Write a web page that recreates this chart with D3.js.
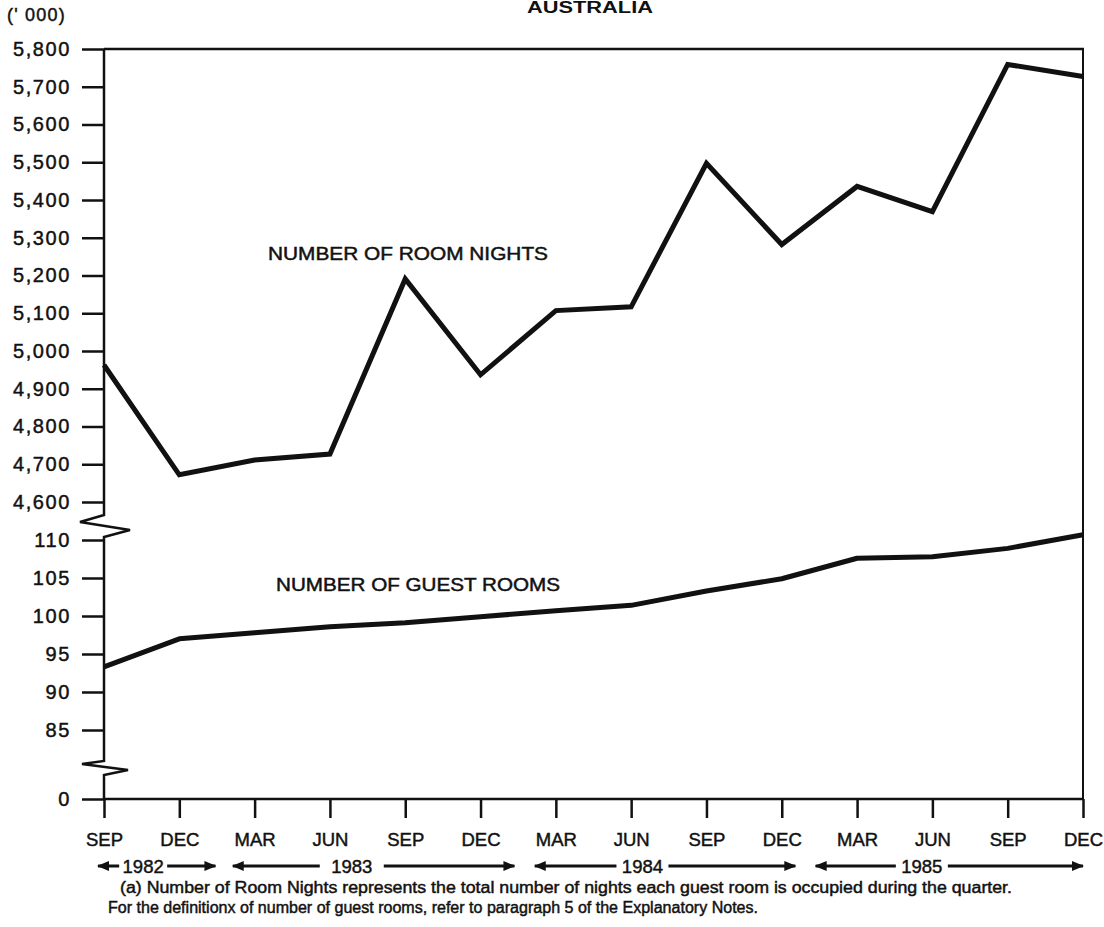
<!DOCTYPE html>
<html><head><meta charset="utf-8">
<script src="https://cdn.jsdelivr.net/npm/d3@7"></script>
<style>
html,body{margin:0;padding:0;background:#fff;}
svg{display:block;}
text{fill:#111;font-family:"Liberation Sans",Arial,Helvetica,sans-serif;}
</style></head>
<body>
<svg id="chart" width="1104" height="927"></svg>
<script>
const quarters = ["SEP","DEC","MAR","JUN","SEP","DEC","MAR","JUN","SEP","DEC","MAR","JUN","SEP","DEC"];
const roomNights = [4963, 4672, 4711, 4727, 5191, 4937, 5107, 5117, 5497, 5282, 5436, 5369, 5759, 5727];
const guestRooms = [93.3, 97.0, 97.8, 98.6, 99.1, 99.9, 100.7, 101.4, 103.3, 104.9, 107.6, 107.8, 108.9, 110.7];
const upperTicks = [4600,4700,4800,4900,5000,5100,5200,5300,5400,5500,5600,5700,5800];
const lowerTicks = [0,85,90,95,100,105,110];
const years = ["1982","1983","1984","1985"];
const seriesLabels = ["NUMBER OF ROOM NIGHTS","NUMBER OF GUEST ROOMS"];
const titleText = "AUSTRALIA";
const unitText = "(' 000)";
const footnotes = [
  "(a) Number of Room Nights represents the total number of nights each guest room is occupied during the quarter.",
  "For the definitionx of number of guest rooms, refer to paragraph 5 of the Explanatory Notes."
];

const svg = d3.select("#chart");
const X0 = 104, X1 = 1083, YTOP = 49, YZERO = 799;
const x = d3.scaleLinear().domain([0, quarters.length - 1]).range([X0, X1]);
const yUp = d3.scaleLinear().domain([4600, 5800]).range([502, YTOP]);
const yLow = d3.scaleLinear().domain([0, 85, 110]).range([YZERO, 730, 540]);

const ink = "#111";
const thicken = sel => sel.attr("stroke", ink).attr("stroke-width", 0.45).attr("paint-order", "stroke");

// title (partly cut off at top in the original)
svg.append("text").attr("x", 590).attr("y", 13).attr("text-anchor", "middle")
  .attr("font-size", 16).attr("font-weight", "bold")
  .attr("textLength", 126).attr("lengthAdjust", "spacingAndGlyphs").text(titleText);
svg.append("text").attr("x", 7).attr("y", 21).attr("font-size", 18).attr("letter-spacing", "1.2px")
  .call(thicken).text(unitText);

function styleAxis(g) {
  g.select(".domain").remove();
  g.selectAll(".tick line").attr("stroke", ink).attr("stroke-width", 2.5);
  g.selectAll(".tick text").attr("font-size", 20).attr("letter-spacing", "1.6px")
    .attr("fill", ink).attr("font-family", '"Liberation Sans",Arial,sans-serif').call(thicken);
}

// upper y axis
svg.append("g").attr("transform", `translate(${X0},0)`)
  .call(d3.axisLeft(yUp).tickValues(upperTicks).tickSize(22).tickPadding(11).tickFormat(d3.format(",")))
  .call(styleAxis);
// lower y axis
svg.append("g").attr("transform", `translate(${X0},0)`)
  .call(d3.axisLeft(yLow).tickValues(lowerTicks).tickSize(22).tickPadding(11).tickFormat(d3.format(",")))
  .call(styleAxis);

// y axis line with break zigzags
const axisPath = d3.path();
axisPath.moveTo(X0, YTOP);
axisPath.lineTo(X0, 515); axisPath.lineTo(80, 522); axisPath.lineTo(130, 530); axisPath.lineTo(X0, 537);
axisPath.lineTo(X0, 761); axisPath.lineTo(82, 764); axisPath.lineTo(128, 770); axisPath.lineTo(X0, 775);
axisPath.lineTo(X0, YZERO);
svg.append("path").attr("d", axisPath.toString()).attr("fill", "none")
  .attr("stroke", ink).attr("stroke-width", 2.5).attr("stroke-linejoin", "miter");

// frame: top and right
svg.append("line").attr("x1", X0).attr("x2", X1 + 1).attr("y1", YTOP).attr("y2", YTOP)
  .attr("stroke", ink).attr("stroke-width", 2.5);
svg.append("line").attr("x1", X1).attr("x2", X1).attr("y1", YTOP).attr("y2", YZERO)
  .attr("stroke", ink).attr("stroke-width", 2);

// x axis
const xg = svg.append("g").attr("transform", `translate(0,${YZERO})`)
  .call(d3.axisBottom(x).tickValues(d3.range(quarters.length)).tickSize(19).tickPadding(15)
    .tickFormat(i => quarters[i]));
xg.select(".domain").remove();
xg.selectAll(".tick line").attr("stroke", ink).attr("stroke-width", 2.5);
xg.selectAll(".tick text").attr("font-size", 18.5).attr("fill", ink)
  .attr("font-family", '"Liberation Sans",Arial,sans-serif').call(thicken);
svg.append("line").attr("x1", X0).attr("x2", X1 + 1).attr("y1", YZERO).attr("y2", YZERO)
  .attr("stroke", ink).attr("stroke-width", 2.5);

// data lines
const lineUp = d3.line().x((d, i) => x(i)).y(d => yUp(d));
const lineLow = d3.line().x((d, i) => x(i)).y(d => yLow(d));
svg.append("path").datum(roomNights).attr("d", lineUp).attr("fill", "none")
  .attr("stroke", ink).attr("stroke-width", 5).attr("stroke-linejoin", "miter");
svg.append("path").datum(guestRooms).attr("d", lineLow).attr("fill", "none")
  .attr("stroke", ink).attr("stroke-width", 5).attr("stroke-linejoin", "round");

// series labels
svg.append("text").attr("x", 268).attr("y", 260).attr("font-size", 17.5)
  .attr("textLength", 280).attr("lengthAdjust", "spacingAndGlyphs").call(thicken).text(seriesLabels[0]);
svg.append("text").attr("x", 276).attr("y", 591).attr("font-size", 17.5)
  .attr("textLength", 284).attr("lengthAdjust", "spacingAndGlyphs").call(thicken).text(seriesLabels[1]);

// year arrows
const yearSpans = [
  {from: -0.08, to: 1.48, mid: 0.52, half: 24},
  {from: 1.71, to: 5.45, mid: 3.29, half: 32},
  {from: 5.72, to: 9.18, mid: 7.15, half: 26},
  {from: 9.45, to: 13.0, mid: 10.86, half: 26}
];
const yearY = 866;
const defs = svg.append("defs");
defs.append("marker").attr("id", "ah").attr("viewBox", "0 0 12 10").attr("refX", 11).attr("refY", 5)
  .attr("markerWidth", 12).attr("markerHeight", 10).attr("markerUnits", "userSpaceOnUse")
  .attr("orient", "auto-start-reverse")
  .append("path").attr("d", "M0,0 L12,5 L0,10 Z").attr("fill", ink);

years.forEach((yr, k) => {
  const s = yearSpans[k];
  const cx = x(s.mid);
  svg.append("line").attr("x1", x(s.from)).attr("x2", cx - s.half).attr("y1", yearY).attr("y2", yearY)
    .attr("stroke", ink).attr("stroke-width", 3).attr("marker-start", "url(#ah)");
  svg.append("line").attr("x1", cx + s.half).attr("x2", x(s.to)).attr("y1", yearY).attr("y2", yearY)
    .attr("stroke", ink).attr("stroke-width", 3).attr("marker-end", "url(#ah)");
  svg.append("text").attr("x", cx).attr("y", yearY + 7).attr("text-anchor", "middle")
    .attr("font-size", 18.5).call(thicken).text(yr);
});

// footnotes
svg.append("text").attr("x", 120).attr("y", 893).attr("font-size", 16)
  .attr("textLength", 892).attr("lengthAdjust", "spacingAndGlyphs").call(thicken).text(footnotes[0]);
svg.append("text").attr("x", 108).attr("y", 913).attr("font-size", 16)
  .attr("textLength", 650).attr("lengthAdjust", "spacingAndGlyphs").call(thicken).text(footnotes[1]);
</script>
</body></html>
